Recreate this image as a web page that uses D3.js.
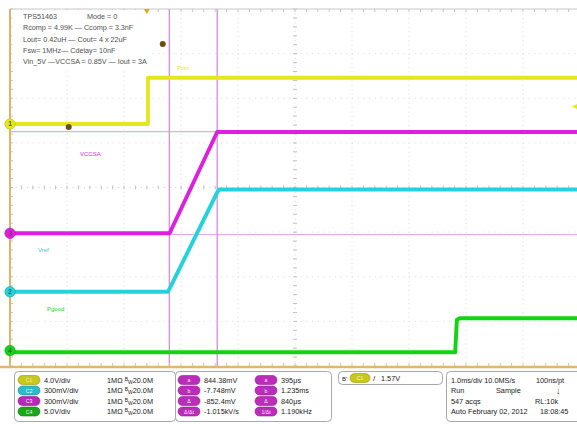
<!DOCTYPE html>
<html><head><meta charset="utf-8">
<script src="https://cdn.jsdelivr.net/npm/d3@7"></script>
<style>
body{margin:0;background:#fff}
svg{display:block}
text{font-family:"Liberation Sans",Arial,sans-serif}
</style>
</head><body>
<svg id="c" width="577" height="424"></svg>
<script>
// ---------------- data ----------------
const timeRangeMs = [-2.4, 7.6];          // 10 divisions at 1.0 ms/div
const ch1TimeMs = [-2.4, 0.02, 0.02, 7.6];
const ch1Volts  = [0, 0, 4.14, 4.14];
const ch2TimeMs = [-2.4, 0.374, 1.233, 1.27, 7.6];
const ch2Volts  = [0, 0, 0.666, 0.687, 0.687];
const ch3TimeMs = [-2.4, 0.40, 1.235, 7.6];
const ch3Volts  = [0, 0, 0.681, 0.681];
const ch4TimeMs = [-2.4, 5.41, 5.44, 5.49, 7.6];
const ch4Volts  = [-0.2, -0.2, 3.45, 3.61, 3.61];

const channelIds    = ["C1", "C2", "C3", "C4"];
const channelScales = ["4.0V/div", "300mV/div", "300mV/div", "5.0V/div"];
const voltsPerDiv   = [4.0, 0.3, 0.3, 5.0];
const channelTags   = ["1", "2", "3", "4"];
const channelLabels = ["Pvin", "Vref", "VCCSA", "Pgood"];
const inputSetting  = "1MΩ";
const bandwidth     = "20.0M";

const cursorTimesMs = [0.395, 1.235];
const cursorVoltsC3 = [0.683, -0.008];
const readoutCol1 = ["844.38mV", "-7.748mV", "-852.4mV", "-1.015kV/s"];
const readoutCol2 = ["395μs", "1.235ms", "840μs", "1.190kHz"];
const readoutTags1 = ["a", "b", "Δ", "Δ/Δt"];
const readoutTags2 = ["a", "b", "Δ", "1/Δt"];
const markerTimesMs = [0.28, -1.37];
const markerVoltsC1 = [7.17, -0.27];

const triggerLevelV = 1.57;
const triggerText = "1.57V";
const noteLines = [
  ["TPS51463", "Mode = 0"],
  ["Rcomp = 4.99K —  Ccomp = 3.3nF"],
  ["Lout= 0.42uH —  Cout= 4 x 22uF"],
  ["Fsw= 1MHz—  Cdelay= 10nF"],
  ["Vin_5V —VCCSA = 0.85V —  Iout = 3A"]
];
const timebaseRows = [
  ["1.0ms/div  10.0MS/s", "100ns/pt"],
  ["Run", "Sample"],
  ["547 acqs", "RL:10k"],
  ["Auto   February 02, 2012", "18:08:45"]
];

// ---------------- layout / style ----------------
const PL = 10, PR = 580, PT = 9, PB = 366;
const chOffsetDiv = [1.423, -2.335, -1.026, -3.653];
const chColor = ["#e6e61e", "#22d3dc", "#e01ee0", "#14d214"];
const chBadge = ["#c8c81a", "#2cbcc8", "#b828b8", "#1aa81a"];
const labelPos = [[177, 70], [38, 252], [80, 156], [47, 311]];

const svg = d3.select("#c");
const x = d3.scaleLinear().domain(timeRangeMs).range([PL, PR]);
const xDiv = d3.scaleLinear().domain([-5, 5]).range([PL, PR]);
const yDiv = d3.scaleLinear().domain([-4, 4]).range([PB, PT]);
const yCh = i => v => yDiv(v / voltsPerDiv[i] + chOffsetDiv[i]);

svg.append("rect").attr("width", 577).attr("height", 424).attr("fill", "#fff");
svg.append("defs").append("clipPath").attr("id", "clip")
  .append("rect").attr("x", PL).attr("y", PT).attr("width", 577 - PL).attr("height", PB - PT);

// grid
const grid = svg.append("g");
d3.range(-4, 5).forEach(d => {
  grid.append("line").attr("x1", xDiv(d)).attr("x2", xDiv(d)).attr("y1", PT).attr("y2", PB)
    .attr("stroke", d === 0 ? "#cfcfcf" : "#dadada").attr("stroke-width", 1).attr("stroke-dasharray", "1,3.46");
});
d3.range(-3, 4).forEach(d => {
  grid.append("line").attr("y1", yDiv(d)).attr("y2", yDiv(d)).attr("x1", PL).attr("x2", 577)
    .attr("stroke", d === 0 ? "#cfcfcf" : "#dadada").attr("stroke-width", 1).attr("stroke-dasharray", "1,4.7");
});
// minor ticks on center lines and borders
d3.range(-5, 5.001, 0.2).forEach(d => {
  const xx = xDiv(d);
  grid.append("line").attr("x1", xx).attr("x2", xx).attr("y1", yDiv(0) - 2).attr("y2", yDiv(0) + 2).attr("stroke", "#c4c4c4");
  grid.append("line").attr("x1", xx).attr("x2", xx).attr("y1", PT).attr("y2", PT + 3).attr("stroke", "#c4c4c4");
});
d3.range(-4, 4.001, 0.2).forEach(d => {
  const yy = yDiv(d);
  grid.append("line").attr("y1", yy).attr("y2", yy).attr("x1", xDiv(0) - 2).attr("x2", xDiv(0) + 2).attr("stroke", "#c4c4c4");
  grid.append("line").attr("y1", yy).attr("y2", yy).attr("x1", PL).attr("x2", PL + 3).attr("stroke", "#c4c4c4");
});
grid.append("line").attr("x1", PL).attr("x2", 577).attr("y1", PT).attr("y2", PT).attr("stroke", "#c8c8c8");

// note box
const note = svg.append("g");
note.append("rect").attr("x", 12).attr("y", 10).attr("width", 138).attr("height", 58).attr("fill", "#fff");
noteLines.forEach((ln, i) => {
  note.append("text").attr("x", 23).attr("y", 19 + i * 11.3).attr("font-size", 7.2).attr("fill", "#505050").text(ln[0]);
  if (ln[1]) note.append("text").attr("x", 87).attr("y", 19 + i * 11.3).attr("font-size", 7.2).attr("fill", "#505050").text(ln[1]);
});

// cursors
const cur = svg.append("g").attr("clip-path", "url(#clip)");
cursorVoltsC3.forEach(v => {
  cur.append("line").attr("x1", PL).attr("x2", 577).attr("y1", yCh(2)(v)).attr("y2", yCh(2)(v))
    .attr("stroke", "#dcaee6").attr("stroke-width", 1.2);
});
cursorTimesMs.forEach(t => {
  cur.append("line").attr("x1", x(t)).attr("x2", x(t)).attr("y1", PT).attr("y2", PB)
    .attr("stroke", "#d28edc").attr("stroke-width", 1.3);
});

// traces
const traces = [[ch1TimeMs, ch1Volts], [ch2TimeMs, ch2Volts], [ch3TimeMs, ch3Volts], [ch4TimeMs, ch4Volts]];
const tg = svg.append("g").attr("clip-path", "url(#clip)");
[0, 2, 1, 3].forEach(i => {
  const [ts, vs] = traces[i];
  const pts = ts.map((t, k) => [t, vs[k]]);
  const line = d3.line().x(d => x(d[0])).y(d => yCh(i)(d[1]));
  tg.append("path").attr("d", line(pts)).attr("fill", "none")
    .attr("stroke", chColor[i]).attr("stroke-width", 3.9).attr("stroke-linejoin", "round");
});

// channel labels on screen
channelLabels.forEach((l, i) => {
  svg.append("text").attr("x", labelPos[i][0]).attr("y", labelPos[i][1]).attr("font-size", 6)
    .attr("fill", chColor[i]).text(l);
});

// cursor markers
markerTimesMs.forEach((t, k) => {
  svg.append("circle").attr("cx", x(t)).attr("cy", yCh(0)(markerVoltsC1[k])).attr("r", 3)
    .attr("fill", "#6e4c12");
});

// borders
svg.append("line").attr("x1", PL).attr("x2", PL).attr("y1", PT).attr("y2", PB + 1)
  .attr("stroke", "#dcb46a").attr("stroke-width", 2);
svg.append("line").attr("x1", 0).attr("x2", 577).attr("y1", PB + 1).attr("y2", PB + 1)
  .attr("stroke", "#e2b672").attr("stroke-width", 2.4);
d3.range(-5, 5.001, 0.2).forEach(d => {
  svg.append("line").attr("x1", xDiv(d)).attr("x2", xDiv(d)).attr("y1", PB - 3).attr("y2", PB).attr("stroke", "#d8c49a");
});

// trigger markers
const tx = x(0);
svg.append("path").attr("d", `M${tx - 3},${PT} L${tx + 3},${PT} L${tx},${PT + 5} Z`).attr("fill", "#e8a418");
const ty = yCh(0)(triggerLevelV);
svg.append("path").attr("d", `M577,${ty - 2.5} L572,${ty} L577,${ty + 2.5} Z`).attr("fill", "#e6e61e");

// ground markers
channelTags.forEach((tag, i) => {
  const yy = yCh(i)(0);
  svg.append("circle").attr("cx", PL).attr("cy", yy).attr("r", 5.2).attr("fill", chColor[i])
    .attr("stroke", d3.color(chColor[i]).darker(0.6)).attr("stroke-width", 0.6);
  svg.append("text").attr("x", PL).attr("y", yy + 2.3).attr("text-anchor", "middle")
    .attr("font-size", 6.5).attr("font-weight", "bold").attr("fill", "#555").text(tag);
});

// ---------------- bottom panel ----------------
const panel = svg.append("g");
function box(x0, y0, w, h) {
  panel.append("rect").attr("x", x0).attr("y", y0).attr("width", w).attr("height", h).attr("rx", 4)
    .attr("fill", "#fff").attr("stroke", "#a8a8a8").attr("stroke-width", 1);
}
function badge(x0, yc, w, fill, label) {
  panel.append("rect").attr("x", x0).attr("y", yc - 4.5).attr("width", w).attr("height", 9).attr("rx", 4.5)
    .attr("fill", fill).attr("stroke", d3.color(fill).darker(0.8)).attr("stroke-width", 0.6);
  panel.append("text").attr("x", x0 + w / 2).attr("y", yc + 2).attr("text-anchor", "middle")
    .attr("font-size", 5.2).attr("fill", "#eee").text(label);
}
const rowY = [380, 390.5, 401, 411.5];
const fs = 7.3;
box(14.5, 371.5, 161, 50);
channelIds.forEach((c, i) => {
  badge(18, rowY[i], 22, chBadge[i], c);
  panel.append("text").attr("x", 44).attr("y", rowY[i] + 2.5).attr("font-size", fs).attr("fill", "#222").text(channelScales[i]);
  const t = panel.append("text").attr("x", 107).attr("y", rowY[i] + 2.5).attr("font-size", fs).attr("fill", "#222");
  t.append("tspan").text(inputSetting + " ");
  t.append("tspan").attr("font-size", 5).attr("dy", -2).text("B");
  t.append("tspan").attr("font-size", 5).attr("dy", 3).text("W");
  t.append("tspan").attr("dy", -1).text(bandwidth);
});
box(175.5, 371.5, 156, 50);
readoutCol1.forEach((v, i) => {
  badge(178, rowY[i], 22, "#bb2cbb", readoutTags1[i]);
  panel.append("text").attr("x", 204).attr("y", rowY[i] + 2.5).attr("font-size", fs).attr("fill", "#222").text(v);
  badge(255, rowY[i], 22, "#bb2cbb", readoutTags2[i]);
  panel.append("text").attr("x", 281).attr("y", rowY[i] + 2.5).attr("font-size", fs).attr("fill", "#222").text(readoutCol2[i]);
});
box(338.5, 371.5, 104, 13);
panel.append("text").attr("x", 342).attr("y", 380.5).attr("font-size", 6).attr("fill", "#222").text("B'");
badge(350, 378, 20, chBadge[0], channelIds[0]);
panel.append("text").attr("x", 373).attr("y", 381).attr("font-size", 8).attr("fill", "#222").text("/");
panel.append("text").attr("x", 381).attr("y", 380.5).attr("font-size", fs).attr("fill", "#222").text(triggerText);
box(446.5, 371.5, 140, 50);
const tbX = [[451, 536], [451, 496], [451, 535], [451, 540]];
timebaseRows.forEach((r, i) => {
  r.forEach((s, k) => {
    panel.append("text").attr("x", tbX[i][k]).attr("y", rowY[i] + 2.5).attr("font-size", fs).attr("fill", "#222").text(s);
  });
});
panel.append("text").attr("x", 556).attr("y", 394).attr("font-size", 9).attr("font-weight", "bold").attr("fill", "#222").text("↓");
</script>
</body></html>
